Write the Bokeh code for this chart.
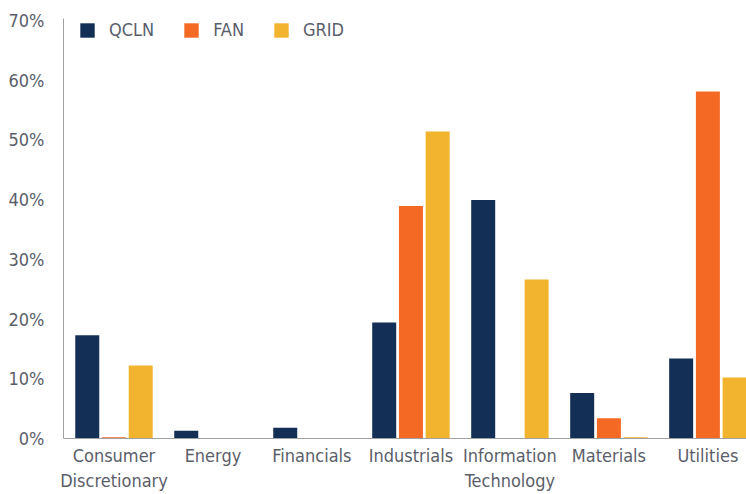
from bokeh.plotting import figure
from bokeh.models import ColumnDataSource, Range1d, Legend, LegendItem, FixedTicker
from bokeh.transform import dodge
from bokeh.embed import file_html
from bokeh.resources import INLINE

sectors = ["Consumer\nDiscretionary", "Energy", "Financials", "Industrials",
           "Information\nTechnology", "Materials", "Utilities"]
qcln = [17.3, 1.3, 1.8, 19.4, 39.9, 7.6, 13.4]
fan = [0.2, 0.1, 0.1, 38.9, 0.1, 3.4, 58.1]
grid = [12.2, 0.1, 0.1, 51.4, 26.6, 0.2, 10.2]
series = ["QCLN", "FAN", "GRID"]
colors = ["#132f55", "#f46a24", "#f2b42e"]
yticks = [0, 10, 20, 30, 40, 50, 60, 70]

FONT = "DejaVu Sans Condensed"
GREY = "#5b5e6a"

xpos = [i + 0.5 for i in range(len(sectors))]
src = ColumnDataSource(dict(x=xpos, sector=sectors, QCLN=qcln, FAN=fan, GRID=grid))

p = figure(x_range=Range1d(-0.01, 6.89),
           y_range=Range1d(0, 70.3),
           width=746, height=494, output_backend="svg", toolbar_location=None,
           min_border_left=63, min_border_right=0, min_border_top=18, min_border_bottom=56)

renderers = []
offsets = [-0.27, 0.0, 0.27]
for s, c, off in zip(series, colors, offsets):
    r = p.vbar(x=dodge("x", off), top=s, width=0.2424,
               source=src, color=c, line_color=None)
    renderers.append(r)

legend = Legend(items=[LegendItem(label=s, renderers=[r]) for s, r in zip(series, renderers)],
                orientation="horizontal", location=(15, 398))
legend.border_line_color = None
legend.background_fill_alpha = 0
legend.label_text_font = FONT
legend.label_text_font_size = "18px"
legend.label_text_color = GREY
legend.label_standoff = 13
legend.glyph_width = 18
legend.glyph_height = 18
legend.spacing = 28
legend.margin = 0
legend.padding = 4
p.add_layout(legend)

p.xgrid.visible = False
p.ygrid.visible = False
p.outline_line_color = None

p.xaxis.ticker = FixedTicker(ticks=xpos)
p.xaxis.major_label_overrides = {x: s for x, s in zip(xpos, sectors)}
p.yaxis.ticker = FixedTicker(ticks=yticks)
p.yaxis.major_label_overrides = {v: f"{v}%" for v in yticks}
for ax in (p.xaxis, p.yaxis):
    ax.major_tick_line_color = None
    ax.minor_tick_line_color = None
    ax.axis_line_color = "#a0a0a0"
    ax.axis_line_width = 1
    ax.major_label_text_font = FONT
    ax.major_label_text_color = GREY
p.xaxis.major_label_text_font_size = "18px"
p.yaxis.major_label_text_font_size = "18px"
p.yaxis.major_label_standoff = 13
p.xaxis.major_label_standoff = 0

open("out.html", "w").write(file_html(p, INLINE))
